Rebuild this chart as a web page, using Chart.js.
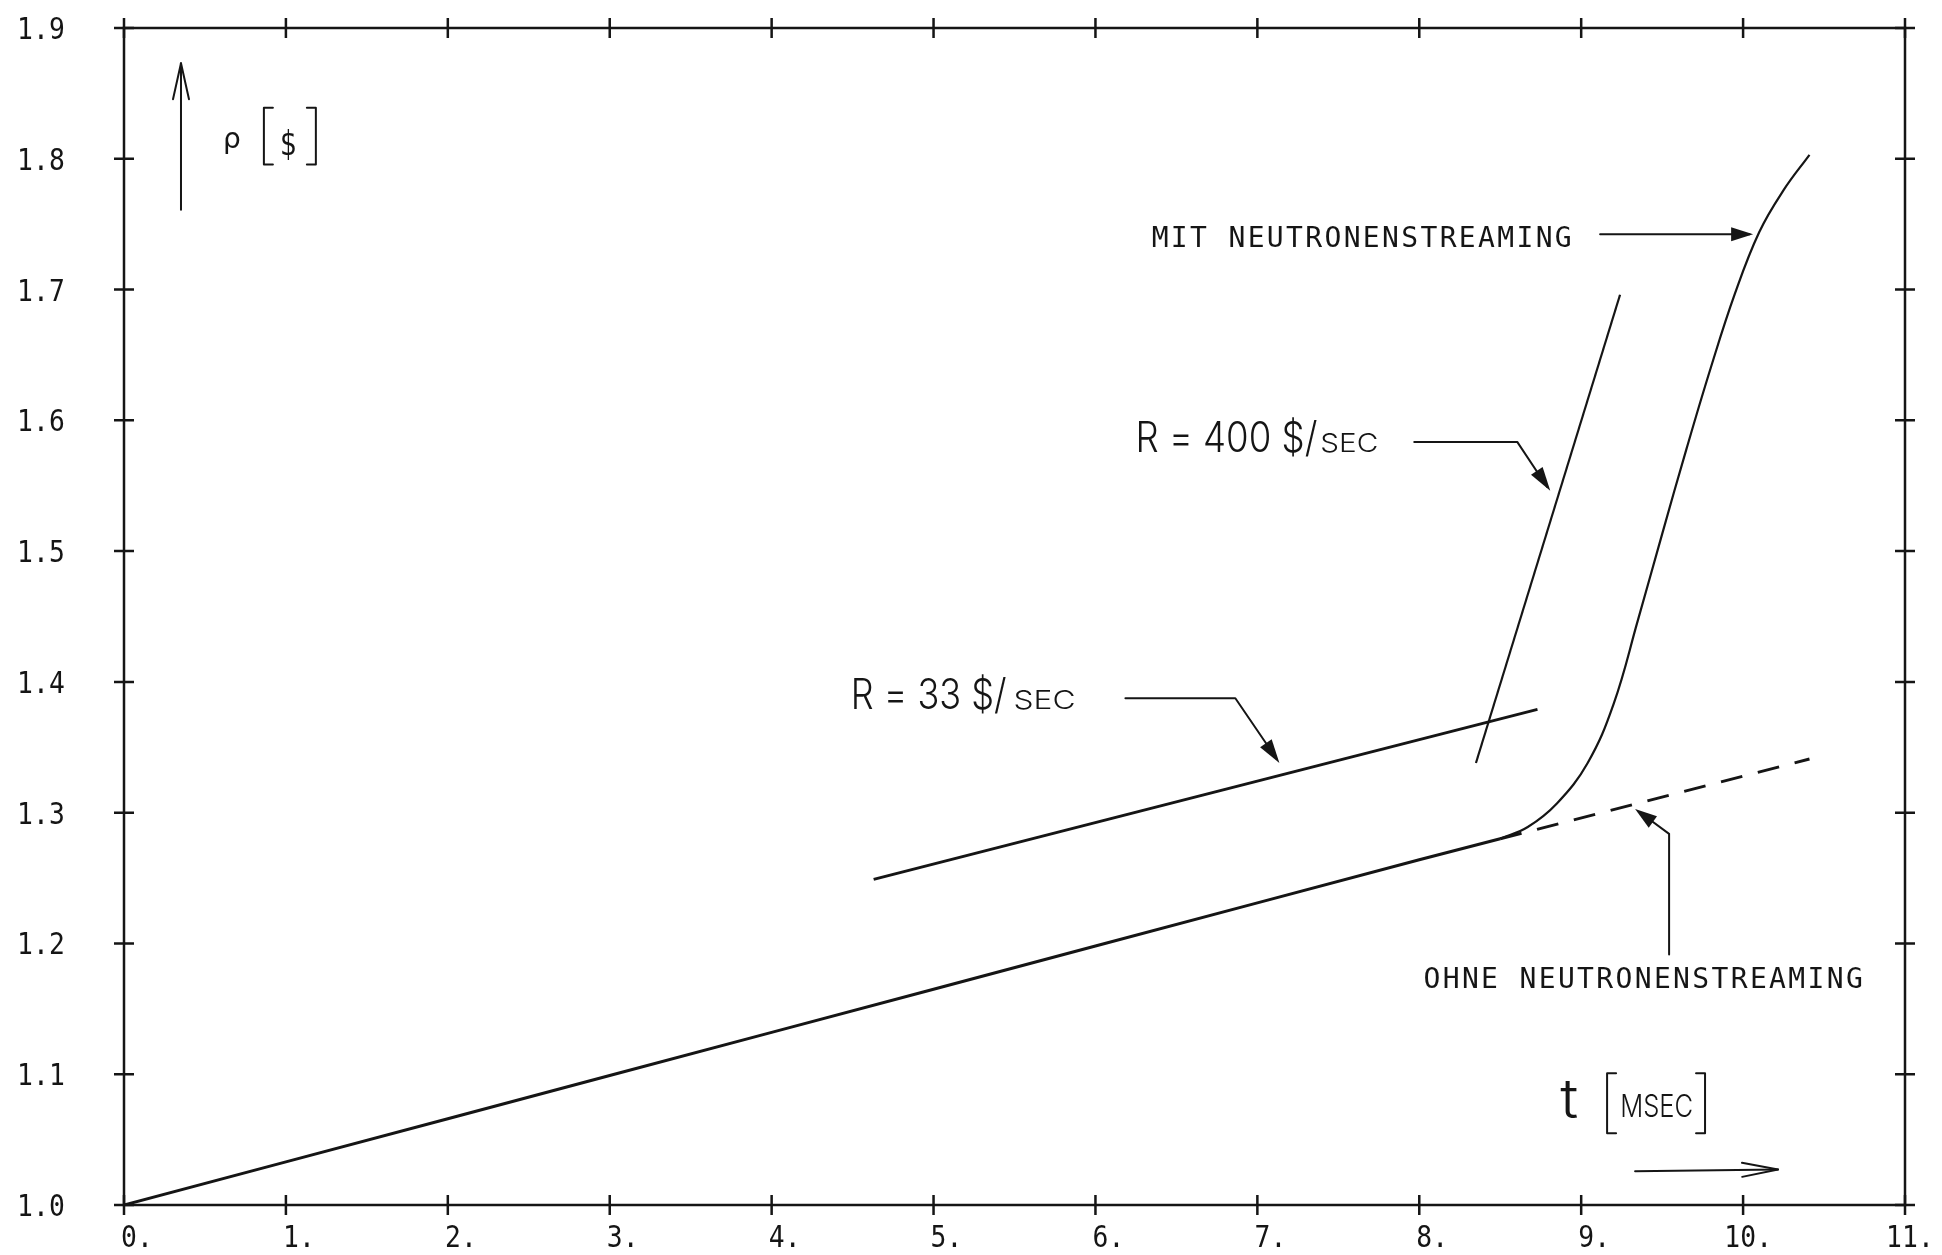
<!DOCTYPE html>
<html lang="de">
<head>
    <meta charset="UTF-8">
    <title>Reaktivitaet rho(t)</title>
    <style>
        body {
            margin: 0;
            background: #fff;
        }

        .container {
            width: 1942px;
            height: 1255px;
        }
    </style>
</head>
<body>
    <div class="container">
        <canvas id="rhoChart"></canvas>
    </div>

    <script src="https://cdn.jsdelivr.net/npm/chart.js"></script>
    <script>
        // t in MSEC, rho in $
        const tBase = [0, 1, 2, 3, 4, 5, 6, 7, 8, 8.5];
        const rhoBase = [1.0, 1.033, 1.066, 1.099, 1.132, 1.165, 1.198, 1.231, 1.264, 1.28];

        // ohne Neutronenstreaming (gestrichelt)
        const tOhne = [8.5, 10.41];
        const rhoOhne = [1.28, 1.341];

        // mit Neutronenstreaming
        const tMit = [8.5, 8.67, 8.85, 9.04, 9.2, 9.35, 9.5, 9.65, 9.8, 9.95, 10.1, 10.25, 10.41];
        const rhoMit = [1.28, 1.289, 1.307, 1.338, 1.383, 1.447, 1.513, 1.578, 1.640, 1.697, 1.744, 1.776, 1.803];

        // Rampen R = 33 $/sec und R = 400 $/sec
        const tR33 = [4.63, 8.73];
        const rhoR33 = [1.249, 1.379];
        const tR400 = [8.35, 9.24];
        const rhoR400 = [1.338, 1.696];

        const xTicks = [0, 1, 2, 3, 4, 5, 6, 7, 8, 9, 10, 11];
        const xTickLabels = ['0.', '1.', '2.', '3.', '4.', '5.', '6.', '7.', '8.', '9.', '10.', '11.'];
        const yTicks = [1.0, 1.1, 1.2, 1.3, 1.4, 1.5, 1.6, 1.7, 1.8, 1.9];
        const yTickLabels = ['1.0', '1.1', '1.2', '1.3', '1.4', '1.5', '1.6', '1.7', '1.8', '1.9'];

        const toPoints = (xs, ys) => xs.map((x, i) => ({ x: x, y: ys[i] }));

        const INK = '#151515';
        const MONO = '"DejaVu Sans Mono", "Liberation Mono", monospace';
        const SANS = '"DejaVu Sans", "Liberation Sans", sans-serif';
        const THIN = 'Inter, "Open Sans", "DejaVu Sans", sans-serif';

        // draw text squeezed/stretched to a given width
        function fitText(ctx, str, x, y, font, width) {
            ctx.font = font;
            const w = ctx.measureText(str).width;
            ctx.save();
            ctx.translate(x, y);
            ctx.scale(width / w, 1);
            ctx.textAlign = 'left';
            ctx.textBaseline = 'alphabetic';
            ctx.fillText(str, 0, 0);
            ctx.restore();
        }

        // plotter style text with fixed pitch
        function pitchText(ctx, str, x, y, font, pitch, squeeze) {
            ctx.font = font;
            ctx.textAlign = 'center';
            ctx.textBaseline = 'alphabetic';
            const sx = squeeze || 1;
            for (let i = 0; i < str.length; i++) {
                ctx.save();
                ctx.translate(x + pitch * i + pitch / 2, y);
                ctx.scale(sx, 1);
                ctx.fillText(str[i], 0, 0);
                ctx.restore();
            }
        }

        function polyline(ctx, pts, width) {
            ctx.lineWidth = width;
            ctx.beginPath();
            ctx.moveTo(pts[0][0], pts[0][1]);
            for (let i = 1; i < pts.length; i++) ctx.lineTo(pts[i][0], pts[i][1]);
            ctx.stroke();
        }

        function arrowHead(ctx, from, to, len, half, filled) {
            const ang = Math.atan2(to[1] - from[1], to[0] - from[0]);
            const bx = to[0] - len * Math.cos(ang), by = to[1] - len * Math.sin(ang);
            const nx = -Math.sin(ang) * half, ny = Math.cos(ang) * half;
            ctx.beginPath();
            ctx.moveTo(bx + nx, by + ny);
            ctx.lineTo(to[0], to[1]);
            ctx.lineTo(bx - nx, by - ny);
            if (filled) {
                ctx.closePath();
                ctx.fill();
            } else {
                ctx.stroke();
            }
        }

        function bracket(ctx, x, yTop, yBot, dir) {
            ctx.lineWidth = 2;
            ctx.beginPath();
            ctx.moveTo(x + dir * 9, yTop);
            ctx.lineTo(x, yTop);
            ctx.lineTo(x, yBot);
            ctx.lineTo(x + dir * 9, yBot);
            ctx.stroke();
        }

        // frame, crossing ticks and tick labels (plotter style)
        const framePlugin = {
            id: 'frame',
            afterDraw(chart) {
                const { ctx, chartArea: a, scales } = chart;
                ctx.save();
                ctx.strokeStyle = INK;
                ctx.fillStyle = INK;
                ctx.lineWidth = 2.5;
                ctx.strokeRect(a.left, a.top, a.right - a.left, a.bottom - a.top);
                xTicks.forEach((v, i) => {
                    const px = scales.x.getPixelForValue(v);
                    ctx.beginPath();
                    ctx.moveTo(px, a.bottom - 10); ctx.lineTo(px, a.bottom + 10);
                    ctx.moveTo(px, a.top - 10); ctx.lineTo(px, a.top + 10);
                    ctx.stroke();
                    const lab = xTickLabels[i].padStart(3, ' ');
                    pitchText(ctx, lab, px - 24 + 5, a.bottom + 42, '31px ' + MONO, 16, 0.85);
                });
                yTicks.forEach((v, i) => {
                    const py = scales.y.getPixelForValue(v);
                    ctx.beginPath();
                    ctx.moveTo(a.left - 10, py); ctx.lineTo(a.left + 10, py);
                    ctx.moveTo(a.right - 10, py); ctx.lineTo(a.right + 10, py);
                    ctx.stroke();
                    pitchText(ctx, yTickLabels[i], a.left - 107, py + 11, '31px ' + MONO, 16, 0.85);
                });
                ctx.restore();
            }
        };

        const labelPlugin = {
            id: 'labels',
            afterDraw(chart) {
                const { ctx, scales } = chart;
                const X = t => scales.x.getPixelForValue(t);
                const Y = r => scales.y.getPixelForValue(r);
                const P = (t, r) => [X(t), Y(r)];
                ctx.save();
                ctx.strokeStyle = INK;
                ctx.fillStyle = INK;
                ctx.lineCap = 'round';
                ctx.lineJoin = 'round';

                // rho [$] with up arrow
                polyline(ctx, [P(0.352, 1.761), P(0.352, 1.873)], 2);
                arrowHead(ctx, P(0.352, 1.761), P(0.352, 1.873), 36, 8, false);
                ctx.font = '28px ' + SANS;
                ctx.textAlign = 'left';
                ctx.textBaseline = 'alphabetic';
                ctx.fillText('\u03c1', X(0.611), Y(1.8085));
                bracket(ctx, X(0.864), Y(1.839), Y(1.7956), 1);
                bracket(ctx, X(1.185), Y(1.839), Y(1.7956), -1);
                fitText(ctx, '$', X(0.963), Y(1.803), '34px ' + SANS, 17);

                // MIT NEUTRONENSTREAMING
                pitchText(ctx, 'MIT NEUTRONENSTREAMING', X(6.34), Y(1.7323), '28px ' + MONO, 19.2);
                polyline(ctx, [P(9.117, 1.7422), P(10.04, 1.7422)], 2);
                arrowHead(ctx, P(9.117, 1.7422), P(10.062, 1.7422), 22, 7, true);

                // R = 400 $/SEC
                fitText(ctx, 'R = 400 $/', X(6.247), Y(1.5759), '300 42px ' + THIN, 182);
                fitText(ctx, 'SEC', X(7.389), Y(1.5759), '300 26px ' + THIN, 58);
                polyline(ctx, [P(7.969, 1.5835), P(8.605, 1.5835), P(8.79, 1.549)], 2);
                arrowHead(ctx, P(8.605, 1.5835), P(8.809, 1.5461), 24, 7, true);

                // R = 33 $/SEC
                fitText(ctx, 'R = 33 $/', X(4.488), Y(1.3791), '300 42px ' + THIN, 156);
                fitText(ctx, 'SEC', X(5.494), Y(1.3791), '300 26px ' + THIN, 62);
                polyline(ctx, [P(6.185, 1.3875), P(6.864, 1.3875), P(7.12, 1.341)], 2);
                arrowHead(ctx, P(6.864, 1.3875), P(7.136, 1.3379), 24, 7, true);

                // OHNE NEUTRONENSTREAMING
                pitchText(ctx, 'OHNE NEUTRONENSTREAMING', X(8.019), Y(1.1663), '28px ' + MONO, 19.2);
                polyline(ctx, [P(9.543, 1.1915), P(9.543, 1.2838), P(9.36, 1.3005)], 2);
                arrowHead(ctx, P(9.543, 1.2838), P(9.333, 1.3028), 22, 7, true);

                // t [MSEC] with arrow
                fitText(ctx, 't', X(8.87), Y(1.0664), '300 54px ' + THIN, 18);
                bracket(ctx, X(9.16), Y(1.1007), Y(1.0549), 1);
                bracket(ctx, X(9.765), Y(1.1007), Y(1.0549), -1);
                fitText(ctx, 'MSEC', X(9.241), Y(1.0671), '300 31px ' + THIN, 73);
                polyline(ctx, [P(9.333, 1.0259), P(10.216, 1.0272)], 2);
                arrowHead(ctx, P(9.333, 1.0259), P(10.216, 1.0272), 36, 7, false);

                ctx.restore();
            }
        };

        const ctx = document.getElementById('rhoChart').getContext('2d');
        const rhoChart = new Chart(ctx, {
            type: 'line',
            data: {
                datasets: [
                    {
                        label: 'Grundkurve',
                        data: toPoints(tBase, rhoBase),
                        borderColor: INK,
                        borderWidth: 3
                    },
                    {
                        label: 'OHNE NEUTRONENSTREAMING',
                        data: toPoints(tOhne, rhoOhne),
                        borderColor: INK,
                        borderWidth: 3,
                        borderDash: [22, 16]
                    },
                    {
                        label: 'MIT NEUTRONENSTREAMING',
                        data: toPoints(tMit, rhoMit),
                        borderColor: INK,
                        borderWidth: 2.2,
                        tension: 0.4
                    },
                    {
                        label: 'R = 33 $/SEC',
                        data: toPoints(tR33, rhoR33),
                        borderColor: INK,
                        borderWidth: 3
                    },
                    {
                        label: 'R = 400 $/SEC',
                        data: toPoints(tR400, rhoR400),
                        borderColor: INK,
                        borderWidth: 2.2
                    }
                ]
            },
            options: {
                responsive: true,
                maintainAspectRatio: false,
                animation: false,
                elements: {
                    point: { radius: 0 },
                    line: { tension: 0 }
                },
                layout: {
                    padding: { top: 28, right: 37, left: 0, bottom: 0 }
                },
                plugins: {
                    legend: { display: false },
                    tooltip: { enabled: false }
                },
                scales: {
                    x: {
                        type: 'linear',
                        min: 0,
                        max: 11,
                        grid: { display: false, drawTicks: false },
                        border: { display: false },
                        afterFit: scale => { scale.height = 50; },
                        ticks: { display: false, stepSize: 1 }
                    },
                    y: {
                        type: 'linear',
                        min: 1.0,
                        max: 1.9,
                        grid: { display: false, drawTicks: false },
                        border: { display: false },
                        afterFit: scale => { scale.width = 124; },
                        ticks: { display: false, stepSize: 0.1 }
                    }
                }
            },
            plugins: [framePlugin, labelPlugin]
        });
    </script>
</body>
</html>
